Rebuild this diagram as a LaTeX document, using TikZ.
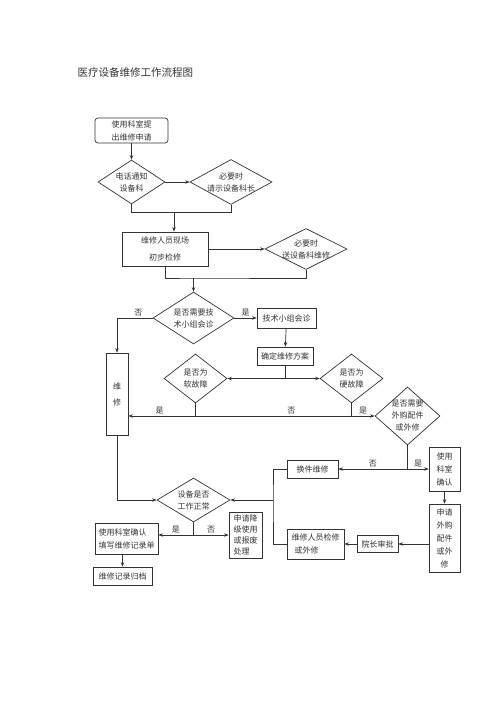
\documentclass[tikz,border=0pt]{standalone}
\usepackage{fontspec}
\setmainfont{Noto Sans CJK SC}
\usepackage{tikz}
\usetikzlibrary{arrows.meta,shapes.geometric,positioning,calc}

\begin{document}
\begin{tikzpicture}[x=1pt,y=-1pt,black!80,line width=0.7pt,
  >={Stealth[length=4.5pt,width=3.5pt]},
  box/.style={draw, align=center, inner sep=1pt, font=\fontsize{8}{13}\selectfont},
  dia/.style={draw, diamond, aspect=1.5, inner sep=-8pt, align=center, font=\fontsize{8}{12}\selectfont},
  lbl/.style={font=\fontsize{8}{10}\selectfont, inner sep=2pt}]
  \useasboundingbox (0,0) rectangle (500,708);

  \node[anchor=west, font=\fontsize{10.5}{12}\selectfont] (title) at (74,73) {医疗设备维修工作流程图};

  \node[box, rounded corners=3pt, minimum width=73, minimum height=25] (apply) at (131.5,130.5) {使用科室提\\出维修申请};
  \node[dia, minimum width=67, minimum height=44] (phone) at (131.5,182) {电话通知\\设备科};
  \node[dia, minimum width=82, minimum height=45] (chief) at (231,182) {必要时\\请示设备科长};
  \node[box, font=\fontsize{8}{17}\selectfont, minimum width=86, minimum height=34] (onsite) at (165,249) {维修人员现场\\初步检修};
  \node[dia, minimum width=82, minimum height=41] (send) at (306,249) {必要时\\送设备科维修};
  \node[dia, minimum width=81, minimum height=52] (team) at (193.5,318) {是否需要技\\术小组会诊};
  \node[box, minimum width=59, minimum height=20] (consult) at (286.5,318) {技术小组会诊};
  \node[box, minimum width=56, minimum height=18] (plan) at (285,356) {确定维修方案};
  \node[box, minimum width=22, minimum height=82] (repair) at (117,394) {维\\[3pt]修};
  \node[dia, minimum width=63, minimum height=49] (soft) at (195.5,378.5) {是否为\\软故障};
  \node[dia, minimum width=63, minimum height=49] (hard) at (351.5,378.5) {是否为\\硬故障};
  \node[dia, minimum width=65, minimum height=58] (buy) at (407.5,416) {是否需要\\外购配件\\或外修};
  \node[box, minimum width=51, minimum height=18] (swap) at (312.5,469) {换件维修};
  \node[box, minimum width=31, minimum height=44] (confirm) at (444.5,469) {使用\\科室\\确认};
  \node[box, minimum width=31, minimum height=68] (purchase) at (444.5,538) {申请\\外购\\配件\\或外\\修};
  \node[box, minimum width=41, minimum height=17] (dean) at (377.5,544) {院长审批};
  \node[box, align=left, minimum width=57, minimum height=30] (outer) at (315.5,544) {维修人员检修\\\hspace*{3pt}或外修};
  \node[dia, minimum width=73, minimum height=44] (normal) at (193.5,500) {设备是否\\工作正常};
  \node[box, align=left, minimum width=63, minimum height=31] (record) at (126.5,538.5) {使用科室确认\\填写维修记录单};
  \node[box, align=left, font=\fontsize{8}{11}\selectfont, minimum width=33, minimum height=46] (scrap) at (245.5,535) {申请降\\级使用\\或报废\\处理};
  \node[box, minimum width=59, minimum height=18] (archive) at (122.5,576) {维修记录归档};

  \coordinate (m1) at (174,212);
  \coordinate (m2) at (193.5,278);
  \coordinate (m3) at (351.5,416);
  \coordinate (m4) at (407.5,469);
  \coordinate (m5) at (273,500);
  \coordinate (m6) at (193.5,535);

  \draw[->] (apply) -- (phone);
  \draw[->] (phone.east) -- (chief.west);
  \draw (phone.south) -- (phone.south |- m1) -| (chief.south);
  \draw[->] (m1) -- (m1 |- onsite.north);
  \draw[->] (onsite.east) -- (send.west);
  \draw (onsite.south) |- (m2) -| (send.south);
  \draw[->] (m2) -- (team.north);
  \draw[->] (team.west) -| (repair.north) node[lbl, pos=0.2, above] {否};
  \draw[->] (team.east) -- (consult.west) node[lbl, midway, above] {是};
  \draw[->] (consult) -- (plan);
  \draw[->] (plan.south) |- (soft.east);
  \draw[->] (plan.south) |- (hard.west);
  \draw (soft.south) -- (soft.south |- m3);
  \draw (hard.south) -- (m3);
  \draw[->] (m3) -- (repair.east |- m3) node[lbl, pos=0.27, above] {否} node[lbl, pos=0.86, above] {是};
  \draw[->] (m3) -- (buy.west) node[lbl, midway, above] {是};
  \draw (buy.south) -- (m4);
  \draw[->] (m4) -- (swap.east) node[lbl, midway, above] {否};
  \draw[->] (m4) -- (confirm.west) node[lbl, midway, above] {是};
  \draw[->] (confirm) -- (purchase);
  \draw[->] (purchase.west |- dean) -- (dean.east);
  \draw[->] (dean) -- (outer);
  \draw (swap.west) -| (m5) |- (outer.west);
  \draw[->] (m5) -- (normal.east);
  \draw[->] (repair.south) |- (normal.west);
  \draw (normal.south) -- (m6);
  \draw[->] (m6) -- (record.east |- m6) node[lbl, midway, above] {是};
  \draw[->] (m6) -- (scrap.west |- m6) node[lbl, midway, above] {否};
  \draw[->] (archive.north |- record.south) -- (archive.north);
\end{tikzpicture}
\end{document}
